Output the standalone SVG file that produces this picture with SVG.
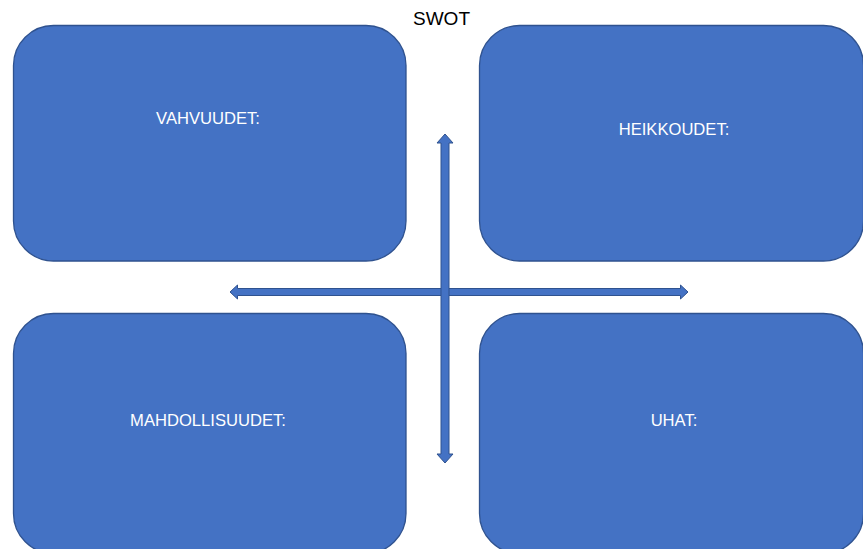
<svg xmlns="http://www.w3.org/2000/svg" width="863" height="549" viewBox="0 0 863 549">
<style>
.box{fill:#4472C4;stroke:#2F528F;stroke-width:1.3}
.lbl{font-family:"Liberation Sans",Arial,sans-serif;font-size:16.6px;fill:#FFFFFF;text-anchor:middle}
.title{font-family:"Liberation Sans",Arial,sans-serif;font-size:19px;fill:#000000;text-anchor:middle}
.arrow{fill:#4472C4;stroke:#2F528F;stroke-width:1}
</style>
<rect width="863" height="549" fill="#FFFFFF"/>
<text class="title" x="441.5" y="25">SWOT</text>
<g id="strengths">
<rect class="box" x="13.5" y="25.5" width="392.5" height="235.5" rx="40" ry="40"/>
<text class="lbl" x="208" y="124">VAHVUUDET:</text>
</g>
<g id="weaknesses">
<rect class="box" x="479.5" y="25.5" width="384" height="235.5" rx="40" ry="40"/>
<text class="lbl" x="674" y="135">HEIKKOUDET:</text>
</g>
<g id="opportunities">
<rect class="box" x="13.5" y="313.5" width="392.5" height="240" rx="40" ry="40"/>
<text class="lbl" x="208" y="426">MAHDOLLISUUDET:</text>
</g>
<g id="threats">
<rect class="box" x="479.5" y="313.5" width="384" height="240" rx="40" ry="40"/>
<text class="lbl" x="674" y="426">UHAT:</text>
</g>
<g id="connectors">
<path class="arrow" d="M230,292 L237.5,285 L237.5,288.5 L680.5,288.5 L680.5,285 L688,292 L680.5,299 L680.5,295.5 L237.5,295.5 L237.5,299 Z"/>
<path class="arrow" d="M445,134 L453,143 L449,143 L449,454 L453,454 L445,463 L437,454 L441,454 L441,143 L437,143 Z"/>
</g>
</svg>
